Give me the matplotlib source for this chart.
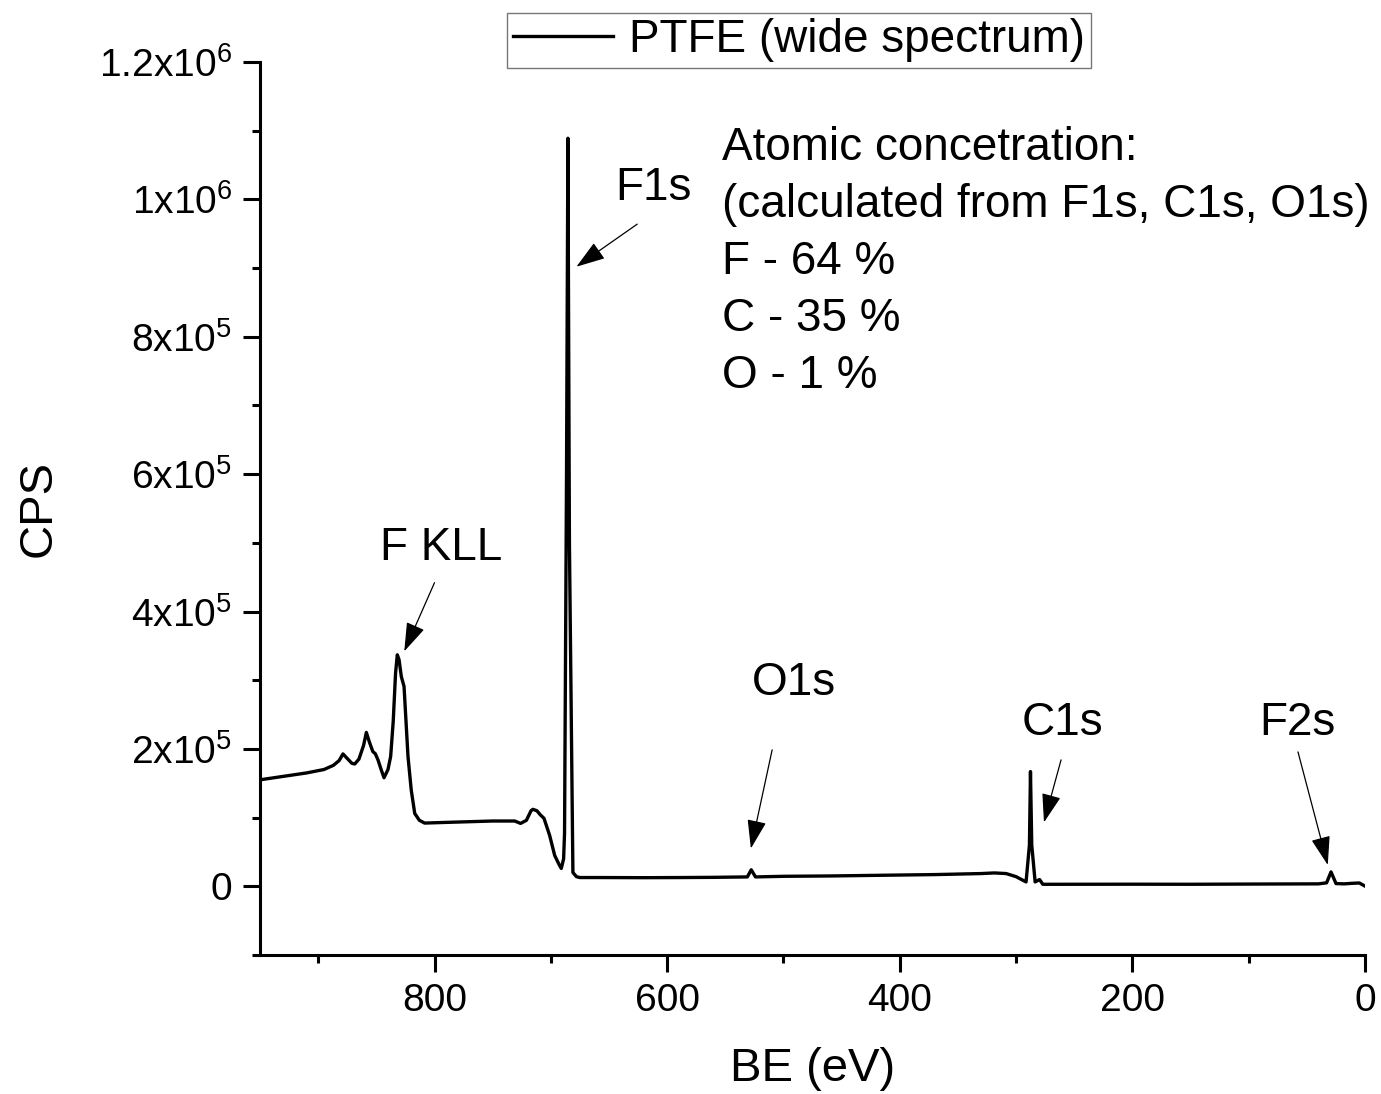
import matplotlib
matplotlib.use("Agg")
import matplotlib.pyplot as plt
from matplotlib.ticker import MultipleLocator, FixedLocator

plt.rcParams['font.family'] = ['Liberation Sans', 'DejaVu Sans']
plt.rcParams['mathtext.fontset'] = 'custom'
plt.rcParams['mathtext.rm'] = 'Liberation Sans'
plt.rcParams['mathtext.default'] = 'regular'

# spectrum (binding energy in eV, counts per second)
be = [950, 930, 910, 895, 887, 882, 878.7, 875, 871, 868.6, 865, 861, 858.6, 856,
      853, 850.9, 848.6, 845.5, 843.4, 840, 837.7, 835.5, 833.5, 832, 830.5, 828.5,
      826.2, 824.5, 822.8, 820, 817, 813, 808.5, 790, 770, 750, 731, 726, 721,
      717, 715.4, 712, 709, 705.9, 701, 696.7, 693, 691, 689, 688.2, 686.5, 685.3,
      684, 681, 678, 675, 656.6, 620, 588, 560, 531, 527.7, 524, 500, 460, 416,
      370, 330, 318.6, 308.5, 300, 291.4, 288.5, 287.6, 286.5, 283.6, 279.8,
      277, 260, 200, 150, 100, 60, 40, 33, 29.2, 24.9, 18, 12, 4.9, 0]
cps = [155000, 160000, 165000, 170000, 176000, 183000, 192700, 186000, 179000,
       178000, 185000, 205000, 224000, 210000, 196000, 193000, 184000, 168000,
       158000, 170000, 189000, 240000, 310000, 337000, 330000, 305000, 291000,
       240000, 189000, 140000, 106000, 96000, 92000, 93000, 94000, 95000, 95000,
       91500, 96000, 110000, 112000, 110000, 104000, 99000, 74000, 45000, 32000,
       26000, 40000, 77000, 600000, 1089000, 500000, 20000, 14000, 12700, 12700,
       12500, 12700, 13000, 13600, 24000, 13600, 14500, 15000, 16000, 17000,
       18500, 19400, 18500, 14000, 6300, 60000, 167000, 60000, 6300, 9800, 2900,
       2900, 3000, 2900, 3200, 3400, 3500, 5000, 20900, 3900, 3500, 4200, 4800,
       200]

legend_label = 'PTFE (wide spectrum)'
conc_lines = ['Atomic concetration:', '(calculated from F1s, C1s, O1s)',
              'F - 64 %', 'C - 35 %', 'O - 1 %']

# peak labels: text, label centre, arrow tail, arrow tip (data coords)
peaks = [
    ('F KLL', (794, 493000), (800, 442000), (826, 342000)),
    ('F1s', (612, 1016000), (625.7, 964000), (678, 902000)),
    ('O1s', (491, 296000), (509.7, 198600), (528, 55000)),
    ('C1s', (260, 238000), (261.3, 184000), (276, 93000)),
    ('F2s', (58, 238000), (57.6, 195600), (32, 31000)),
]

fig = plt.figure(figsize=(13.81, 10.94), dpi=100)
ax = fig.add_axes([0.1883, 0.1271, 0.8001, 0.8162])

ax.plot(be, cps, color='black', lw=2.4, label=legend_label)

ax.set_xlim(950, 0)
ax.set_ylim(-100000, 1200000)
ax.xaxis.set_major_locator(MultipleLocator(200))
ax.xaxis.set_minor_locator(MultipleLocator(100))
ax.yaxis.set_major_locator(FixedLocator([0, 2e5, 4e5, 6e5, 8e5, 1e6, 1.2e6]))
ax.yaxis.set_minor_locator(MultipleLocator(100000))
ax.set_yticklabels(['0', r'2x10$^{5}$', r'4x10$^{5}$', r'6x10$^{5}$',
                    r'8x10$^{5}$', r'1x10$^{6}$', r'1.2x10$^{6}$'])

for side in ['top', 'right']:
    ax.spines[side].set_visible(False)
for side in ['left', 'bottom']:
    ax.spines[side].set_linewidth(2.2)
ax.tick_params(which='major', direction='out', length=12, width=2.2,
               labelsize=28, pad=8)
ax.tick_params(which='minor', direction='out', length=6, width=2.2)

ax.set_xlabel('BE (eV)', fontsize=34, labelpad=20)
ax.set_ylabel('CPS', fontsize=34, labelpad=28)

for text, xy_text, xy_tail, xy_tip in peaks:
    ax.text(xy_text[0], xy_text[1], text, fontsize=33, ha='center', va='center')
    ax.annotate('', xy=xy_tip, xytext=xy_tail,
                arrowprops=dict(arrowstyle='-|>,head_length=0.9,head_width=0.3',
                                color='black', lw=0.9, mutation_scale=20,
                                shrinkA=0, shrinkB=0))

for i, line in enumerate(conc_lines):
    fig.text(722 / 1381, 1 - (148 + 57 * i) / 1094, line, fontsize=33,
             va='center', ha='left')

leg = ax.legend(loc='center', bbox_to_anchor=(799 / 1381, 1 - 40 / 1094),
                bbox_transform=fig.transFigure, fontsize=33, frameon=True,
                fancybox=False, handlelength=2.2, handletextpad=0.35,
                borderpad=0.12, borderaxespad=0)
leg.get_frame().set_edgecolor('#555555')
leg.get_frame().set_linewidth(1.0)

fig.savefig('out.png', dpi=100)
